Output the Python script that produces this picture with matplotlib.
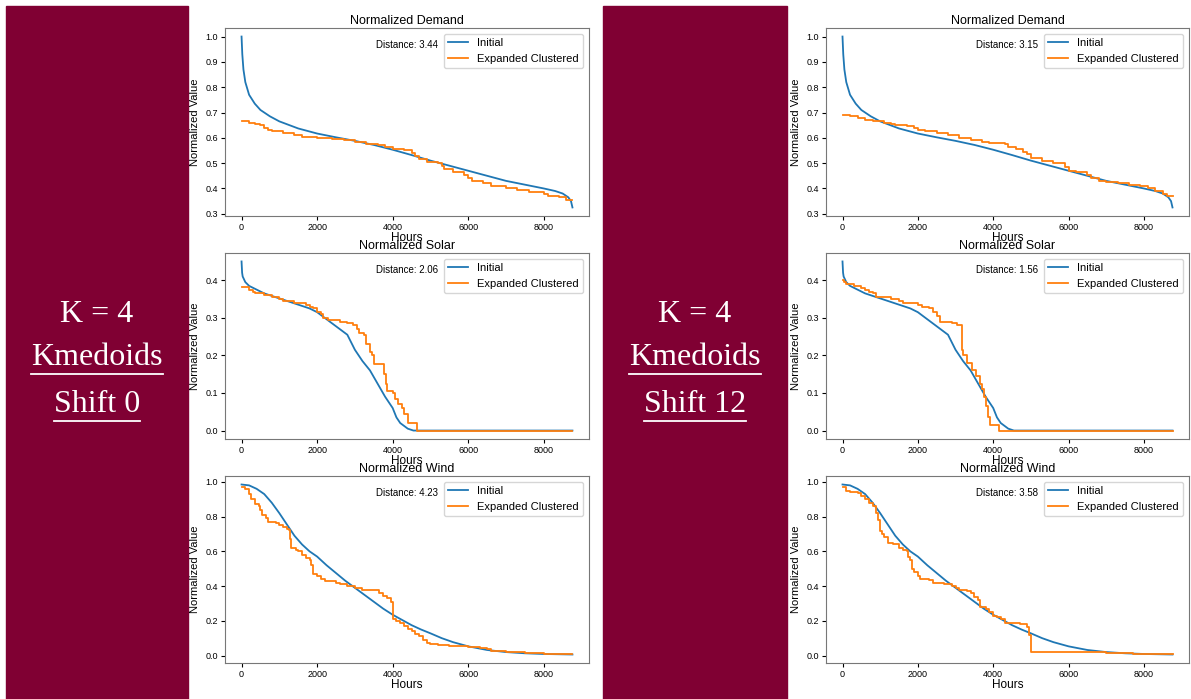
import matplotlib
matplotlib.use("Agg")
import matplotlib.pyplot as plt
from matplotlib.patches import Rectangle
from matplotlib.lines import Line2D

plt.rcParams['font.family'] = ['Liberation Sans', 'DejaVu Sans']

# ==========================
# Data
# ==========================
# initial duration curves (same in both columns)
demand_hours = [0, 20, 50, 100, 200, 350, 500, 750, 1000, 1500, 2000, 2500, 3000, 3500,
                4000, 4500, 5000, 5500, 6000, 6500, 7000, 7500, 8000, 8300, 8500, 8650, 8720, 8759]
demand_initial = [1.0, 0.93, 0.87, 0.82, 0.77, 0.735, 0.71, 0.685, 0.665, 0.637, 0.617, 0.602,
                  0.588, 0.572, 0.553, 0.532, 0.51, 0.49, 0.47, 0.45, 0.43, 0.415, 0.40, 0.39,
                  0.38, 0.365, 0.35, 0.325]

solar_hours = [0, 15, 30, 100, 200, 400, 600, 900, 1200, 1500, 1800, 2000, 2200, 2400, 2600,
               2800, 3000, 3200, 3400, 3600, 3800, 4000, 4100, 4200, 4400, 4550, 8759]
solar_initial = [0.45, 0.42, 0.41, 0.395, 0.385, 0.375, 0.365, 0.355, 0.345, 0.335, 0.325,
                 0.315, 0.30, 0.285, 0.27, 0.255, 0.215, 0.185, 0.16, 0.125, 0.09, 0.06,
                 0.035, 0.02, 0.005, 0.0, 0.0]

wind_hours = [0, 200, 400, 600, 800, 1000, 1200, 1400, 1600, 1800, 2000, 2250, 2500, 2750,
              3000, 3250, 3500, 3750, 4000, 4250, 4500, 4750, 5000, 5300, 5600, 6000, 6500,
              7000, 7500, 8000, 8759]
wind_initial = [0.985, 0.98, 0.96, 0.93, 0.88, 0.82, 0.755, 0.69, 0.64, 0.60, 0.57, 0.52,
                0.475, 0.43, 0.39, 0.35, 0.31, 0.27, 0.235, 0.205, 0.175, 0.15, 0.128, 0.10,
                0.077, 0.053, 0.032, 0.02, 0.013, 0.009, 0.006]

# expanded clustered, K = 4, shift 0 (step curves: level starts at given hour)
demand_s0_hours = [0, 150, 200, 350, 500, 600, 700, 800, 1100, 1400, 1600, 2000, 2400, 2700,
                   3000, 3300, 3600, 3800, 4000, 4300, 4500, 4600, 4700, 4900, 5200, 5300,
                   5350, 5600, 5900, 6000, 6100, 6400, 6600, 7000, 7300, 7600, 8000, 8100,
                   8400, 8600, 8759]
demand_s0_values = [0.668, 0.665, 0.66, 0.655, 0.65, 0.64, 0.632, 0.625, 0.62, 0.61, 0.605,
                    0.60, 0.595, 0.59, 0.585, 0.575, 0.57, 0.565, 0.555, 0.55, 0.54, 0.53,
                    0.515, 0.505, 0.50, 0.49, 0.475, 0.465, 0.455, 0.44, 0.43, 0.42, 0.41,
                    0.40, 0.395, 0.385, 0.38, 0.37, 0.365, 0.355, 0.353]
solar_s0_hours = [0, 200, 300, 350, 600, 800, 1000, 1100, 1400, 1700, 1800, 1900, 2000, 2100,
                  2150, 2300, 2600, 2800, 2950, 3050, 3100, 3250, 3300, 3400, 3450, 3500,
                  3780, 3820, 3850, 4000, 4050, 4150, 4250, 4300, 4400, 4650, 8759]
solar_s0_values = [0.383, 0.375, 0.37, 0.365, 0.36, 0.355, 0.35, 0.345, 0.34, 0.335, 0.33,
                   0.325, 0.315, 0.31, 0.30, 0.295, 0.29, 0.285, 0.28, 0.27, 0.26, 0.255,
                   0.23, 0.21, 0.20, 0.176, 0.15, 0.125, 0.105, 0.10, 0.085, 0.07, 0.06,
                   0.045, 0.02, 0.0, 0.0]
wind_s0_hours = [0, 100, 200, 250, 350, 450, 500, 550, 650, 700, 900, 1000, 1100, 1200, 1250,
                 1270, 1300, 1450, 1500, 1600, 1700, 1800, 1850, 1880, 2000, 2100, 2200, 2500,
                 2600, 2800, 3000, 3200, 3300, 3650, 3750, 3850, 3950, 4000, 4020, 4100, 4200,
                 4300, 4400, 4500, 4600, 4700, 4800, 4900, 5000, 5200, 5500, 6000, 6300, 6500,
                 6600, 7000, 7500, 8000, 8759]
wind_s0_values = [0.97, 0.96, 0.93, 0.90, 0.87, 0.86, 0.84, 0.81, 0.79, 0.77, 0.765, 0.75,
                  0.74, 0.73, 0.725, 0.67, 0.62, 0.61, 0.60, 0.58, 0.56, 0.55, 0.52, 0.47,
                  0.46, 0.44, 0.43, 0.42, 0.41, 0.40, 0.39, 0.38, 0.375, 0.36, 0.345, 0.33,
                  0.31, 0.27, 0.21, 0.20, 0.19, 0.17, 0.155, 0.14, 0.125, 0.11, 0.09, 0.075,
                  0.065, 0.06, 0.055, 0.05, 0.045, 0.035, 0.025, 0.02, 0.015, 0.01, 0.008]

# expanded clustered, K = 4, shift 12
demand_s12_hours = [0, 200, 400, 600, 800, 1100, 1300, 1400, 1700, 1900, 2000, 2200, 2500,
                    2800, 3100, 3400, 3700, 3900, 4300, 4400, 4600, 4800, 4900, 5000, 5300,
                    5600, 5900, 6000, 6200, 6500, 6600, 6800, 7000, 7300, 7600, 7900, 8100,
                    8300, 8500, 8600, 8759]
demand_s12_values = [0.692, 0.687, 0.68, 0.672, 0.665, 0.66, 0.655, 0.65, 0.645, 0.64, 0.632,
                     0.625, 0.62, 0.61, 0.60, 0.59, 0.585, 0.58, 0.575, 0.565, 0.555, 0.545,
                     0.535, 0.52, 0.51, 0.50, 0.485, 0.47, 0.465, 0.455, 0.44, 0.43, 0.425,
                     0.42, 0.415, 0.41, 0.40, 0.39, 0.38, 0.37, 0.37]
solar_s12_hours = [0, 50, 100, 300, 500, 600, 700, 800, 900, 1300, 1500, 1600, 2000, 2100,
                   2300, 2400, 2500, 2600, 2900, 3050, 3160, 3200, 3300, 3450, 3550, 3650,
                   3700, 3750, 3800, 3850, 3920, 4150, 8759]
solar_s12_values = [0.40, 0.395, 0.39, 0.385, 0.38, 0.375, 0.37, 0.365, 0.355, 0.35, 0.345,
                    0.34, 0.335, 0.33, 0.325, 0.315, 0.305, 0.29, 0.285, 0.28, 0.215, 0.20,
                    0.18, 0.16, 0.145, 0.125, 0.11, 0.09, 0.065, 0.035, 0.015, 0.0, 0.0]
wind_s12_hours = [0, 100, 200, 400, 500, 600, 700, 800, 900, 950, 1000, 1050, 1100, 1200,
                  1350, 1500, 1600, 1700, 1750, 1800, 1850, 1900, 2000, 2050, 2300, 2400,
                  2700, 2900, 3000, 3100, 3300, 3400, 3500, 3600, 3650, 3800, 3900, 4000,
                  4100, 4200, 4300, 4700, 4900, 4950, 5000, 7000, 7700, 8759]
wind_s12_values = [0.97, 0.95, 0.94, 0.935, 0.92, 0.90, 0.88, 0.86, 0.82, 0.78, 0.72, 0.70,
                   0.68, 0.65, 0.64, 0.62, 0.61, 0.60, 0.57, 0.55, 0.50, 0.48, 0.46, 0.44,
                   0.435, 0.42, 0.41, 0.40, 0.39, 0.38, 0.37, 0.36, 0.34, 0.32, 0.28, 0.27,
                   0.25, 0.23, 0.22, 0.21, 0.19, 0.18, 0.165, 0.12, 0.02, 0.015, 0.01, 0.008]

titles = ["Normalized Demand", "Normalized Solar", "Normalized Wind"]
distances_shift0 = [3.44, 2.06, 4.23]
distances_shift12 = [3.15, 1.56, 3.58]
panel_labels = [["K = 4", "Kmedoids", "Shift 0"], ["K = 4", "Kmedoids", "Shift 12"]]

initial_curves = [(demand_hours, demand_initial), (solar_hours, solar_initial),
                  (wind_hours, wind_initial)]
clustered_curves = [
    [(demand_s0_hours, demand_s0_values), (solar_s0_hours, solar_s0_values),
     (wind_s0_hours, wind_s0_values)],
    [(demand_s12_hours, demand_s12_values), (solar_s12_hours, solar_s12_values),
     (wind_s12_hours, wind_s12_values)],
]
distances = [distances_shift0, distances_shift12]

# ==========================
# Layout (pixels)
# ==========================
W, H = 1191, 699
MAROON = '#800033'
fig = plt.figure(figsize=(W / 100, H / 100), dpi=100)

def px_axes(x0, y0, x1, y1):
    return fig.add_axes([x0 / W, 1 - y1 / H, (x1 - x0) / W, (y1 - y0) / H])

col_x = [(225, 589), (826, 1189)]
row_y = [(28, 216), (253, 439), (476, 663)]
maroon_x = [(6, 188), (603, 787)]
label_baselines = [322, 365, 412]

for c in range(2):
    # maroon side panel
    x0, x1 = maroon_x[c]
    fig.patches.append(Rectangle((x0 / W, 0), (x1 - x0) / W, 1 - 6 / H,
                                 transform=fig.transFigure, color=MAROON, zorder=-1))
    cx = (x0 + x1) / 2 / W
    for i, txt in enumerate(panel_labels[c]):
        t = fig.text(cx, 1 - label_baselines[i] / H, txt, ha='center', va='baseline',
                     color='white', fontsize=23, family='Liberation Serif')
        if i > 0:
            fig.canvas.draw()
            bb = t.get_window_extent()
            yl = H - (label_baselines[i] + 9)
            fig.lines.append(Line2D([bb.x0 / W, bb.x1 / W], [yl / H, yl / H],
                                    transform=fig.transFigure, color='white', lw=1.3))

    # three subplots
    for r in range(3):
        ax = px_axes(col_x[c][0], row_y[r][0], col_x[c][1], row_y[r][1])
        hx, hv = initial_curves[r]
        ex, ev = clustered_curves[c][r]
        ax.plot(hx, hv, color='#1f77b4', lw=1.3, label='Initial')
        ax.plot(ex, ev, color='#ff7f0e', lw=1.3, drawstyle='steps-post',
                label='Expanded Clustered')
        ax.set_title(titles[r], fontsize=9, pad=3)
        ax.set_xlabel('Hours', fontsize=8.5, labelpad=0)
        ax.set_ylabel('Normalized Value', fontsize=8)
        ax.yaxis.set_label_coords(-0.068, 0.5)
        ax.tick_params(labelsize=6.5, length=3, pad=2)
        ax.set_xticks([0, 2000, 4000, 6000, 8000])
        ax.text(0.5, 0.91, f"Distance: {distances[c][r]:.2f}", transform=ax.transAxes,
                ha='center', va='center', fontsize=7)
        ax.legend(loc='upper right', fontsize=8, handlelength=1.8, borderpad=0.4,
                  labelspacing=0.5)
        for s in ax.spines.values():
            s.set_color('#777777')

fig.savefig('out.png', dpi=100)
